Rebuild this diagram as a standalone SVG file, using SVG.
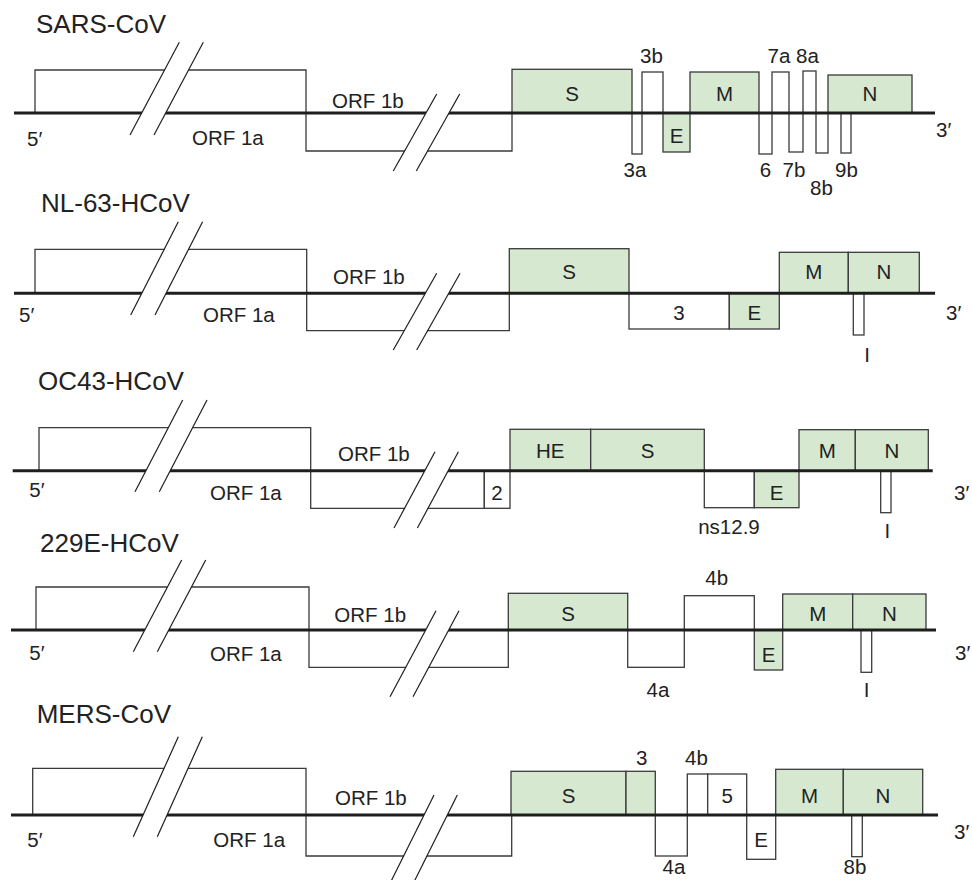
<svg xmlns="http://www.w3.org/2000/svg" width="972" height="880" viewBox="0 0 972 880">
<style>
  .bg{fill:#ffffff}
  .orf{fill:none;stroke:#3a3a3a;stroke-width:1.3}
  .w{fill:#ffffff;stroke:#3a3a3a;stroke-width:1.3}
  .g{fill:#d6e9d0;stroke:#3a3a3a;stroke-width:1.3}
  .bb{stroke:#1e1e1e;stroke-width:3;fill:none}
  .mask{fill:#ffffff;stroke:none}
  .sl{stroke:#1e1e1e;stroke-width:1.2;fill:none}
  text{font-family:"Liberation Sans",Arial,"DejaVu Sans",sans-serif;fill:#222222}
  .t{font-size:20.5px}
  .c{font-size:20.5px;text-anchor:middle}
  .title{font-size:26px}
</style>
<rect class="bg" x="0" y="0" width="972" height="880"/>

<!-- SARS-CoV -->
<g id="sars-cov">
  <text class="title" x="36" y="33">SARS-CoV</text>
  <g id="sars-orf1"><path class="orf" d="M35,113 V70 H306 V151 H512 V113"/>
    <text class="t" x="192" y="145">ORF 1a</text><text class="t" x="332" y="108">ORF 1b</text></g>
  <g id="sars-S"><rect class="g" x="512" y="69.3" width="120" height="43.7"/><text class="c" x="572" y="101">S</text></g>
  <g id="sars-3a"><rect class="w" x="632" y="113" width="10" height="41"/><text class="c" x="635" y="177">3a</text></g>
  <g id="sars-3b"><rect class="w" x="642" y="72" width="21" height="41"/><text class="c" x="651.5" y="63">3b</text></g>
  <g id="sars-E"><rect class="g" x="663" y="113" width="27" height="39"/><text class="c" x="676.5" y="143">E</text></g>
  <g id="sars-M"><rect class="g" x="690" y="72" width="69" height="41"/><text class="c" x="724.5" y="101">M</text></g>
  <g id="sars-6"><rect class="w" x="759" y="113" width="13" height="41"/><text class="c" x="765.5" y="177">6</text></g>
  <g id="sars-7a"><rect class="w" x="772" y="72" width="17" height="41"/><text class="c" x="779" y="63">7a</text></g>
  <g id="sars-7b"><rect class="w" x="789" y="113" width="14" height="39"/><text class="c" x="794" y="177">7b</text></g>
  <g id="sars-8a"><rect class="w" x="803" y="71" width="13" height="42"/><text class="c" x="807.5" y="63">8a</text></g>
  <g id="sars-8b"><rect class="w" x="816" y="113" width="12" height="40"/><text class="c" x="821.5" y="195">8b</text></g>
  <g id="sars-N"><rect class="g" x="828" y="75" width="84" height="38"/><text class="c" x="870" y="101">N</text></g>
  <g id="sars-9b"><rect class="w" x="841" y="113" width="10" height="40"/><text class="c" x="846.5" y="177">9b</text></g>
  <text class="t" x="27" y="146">5′</text>
  <text class="t" x="936" y="137">3′</text>
</g>

<!-- NL-63-HCoV -->
<g id="nl63-hcov">
  <text class="title" x="41" y="212">NL-63-HCoV</text>
  <g id="nl63-orf1"><path class="orf" d="M35,293.3 V249.3 H306.7 V330.7 H509.3 V293.3"/>
    <text class="t" x="203" y="322">ORF 1a</text><text class="t" x="333" y="284">ORF 1b</text></g>
  <g id="nl63-S"><rect class="g" x="509.3" y="248.7" width="119.7" height="44.6"/><text class="c" x="569" y="279">S</text></g>
  <g id="nl63-3"><rect class="w" x="629" y="293.3" width="100.3" height="35.7"/><text class="c" x="679" y="320">3</text></g>
  <g id="nl63-E"><rect class="g" x="729.3" y="293.3" width="50" height="35.7"/><text class="c" x="754.3" y="320">E</text></g>
  <g id="nl63-M"><rect class="g" x="779.3" y="252.3" width="69" height="41"/><text class="c" x="813.8" y="279">M</text></g>
  <g id="nl63-N"><rect class="g" x="848.3" y="252.3" width="71" height="41"/><text class="c" x="883.8" y="279">N</text></g>
  <g id="nl63-I"><rect class="w" x="853.3" y="293.3" width="10.7" height="41.7"/><text class="c" x="867" y="362">I</text></g>
  <text class="t" x="19" y="322">5′</text>
  <text class="t" x="946" y="320">3′</text>
</g>

<!-- OC43-HCoV -->
<g id="oc43-hcov">
  <text class="title" x="38" y="390">OC43-HCoV</text>
  <g id="oc43-orf1"><path class="orf" d="M39,470.7 V427.7 H310.7 V508.3 H484.3 V470.7"/>
    <text class="t" x="210" y="500">ORF 1a</text><text class="t" x="338" y="461">ORF 1b</text></g>
  <g id="oc43-2"><rect class="w" x="484.3" y="470.7" width="25.7" height="37.6"/><text class="c" x="497" y="500">2</text></g>
  <g id="oc43-HE"><rect class="g" x="510" y="429.3" width="80.7" height="41.4"/><text class="c" x="550.3" y="458">HE</text></g>
  <g id="oc43-S"><rect class="g" x="590.7" y="429.3" width="113.6" height="41.4"/><text class="c" x="647.5" y="458">S</text></g>
  <g id="oc43-ns12.9"><rect class="w" x="704.3" y="470.7" width="50" height="37"/><text class="c" x="729" y="534">ns12.9</text></g>
  <g id="oc43-E"><rect class="g" x="754.3" y="470.7" width="44.7" height="37"/><text class="c" x="776.7" y="500">E</text></g>
  <g id="oc43-M"><rect class="g" x="799" y="429.7" width="56.3" height="41"/><text class="c" x="827.2" y="458">M</text></g>
  <g id="oc43-N"><rect class="g" x="855.3" y="429.7" width="73" height="41"/><text class="c" x="891.8" y="458">N</text></g>
  <g id="oc43-I"><rect class="w" x="880.7" y="470.7" width="10.3" height="42"/><text class="c" x="887.3" y="538">I</text></g>
  <text class="t" x="29.3" y="497">5′</text>
  <text class="t" x="954" y="500">3′</text>
</g>

<!-- 229E-HCoV -->
<g id="229e-hcov">
  <text class="title" x="40" y="552">229E-HCoV</text>
  <g id="229e-orf1"><path class="orf" d="M36,630 V587 H309 V667.3 H508.3 V630"/>
    <text class="t" x="210" y="661">ORF 1a</text><text class="t" x="334.3" y="622">ORF 1b</text></g>
  <g id="229e-S"><rect class="g" x="508.3" y="593.3" width="119.4" height="36.7"/><text class="c" x="568" y="620.7">S</text></g>
  <g id="229e-4a"><rect class="w" x="627.7" y="630" width="56.6" height="37.3"/><text class="c" x="658" y="697">4a</text></g>
  <g id="229e-4b"><rect class="w" x="684.3" y="595.7" width="70" height="34.3"/><text class="c" x="716.7" y="585">4b</text></g>
  <g id="229e-E"><rect class="g" x="754.3" y="630" width="28.4" height="40"/><text class="c" x="768.5" y="661.7">E</text></g>
  <g id="229e-M"><rect class="g" x="782.7" y="594" width="70" height="36"/><text class="c" x="817.7" y="620.7">M</text></g>
  <g id="229e-N"><rect class="g" x="852.7" y="594" width="73.3" height="36"/><text class="c" x="889.3" y="620.7">N</text></g>
  <g id="229e-I"><rect class="w" x="861" y="630" width="10.7" height="42.3"/><text class="c" x="866.5" y="697">I</text></g>
  <text class="t" x="29.3" y="660">5′</text>
  <text class="t" x="955" y="660">3′</text>
</g>

<!-- MERS-CoV -->
<g id="mers-cov">
  <text class="title" x="36.7" y="723">MERS-CoV</text>
  <g id="mers-orf1"><path class="orf" d="M32.7,815 V768.3 H306 V856 H511.7 V815"/>
    <text class="t" x="213.3" y="847">ORF 1a</text><text class="t" x="335" y="805">ORF 1b</text></g>
  <g id="mers-S"><rect class="g" x="511" y="771.3" width="115" height="43.7"/><text class="c" x="568.5" y="802.7">S</text></g>
  <g id="mers-3"><rect class="g" x="626" y="771.3" width="29.3" height="43.7"/><text class="c" x="641.7" y="765">3</text></g>
  <g id="mers-4a"><rect class="w" x="655.3" y="815" width="32" height="41"/><text class="c" x="674" y="874">4a</text></g>
  <g id="mers-4b"><rect class="w" x="687.3" y="774" width="20.4" height="41"/><text class="c" x="696.5" y="765">4b</text></g>
  <g id="mers-5"><rect class="w" x="707.7" y="774" width="39" height="41"/><text class="c" x="727.2" y="803">5</text></g>
  <g id="mers-E"><rect class="w" x="746.7" y="815" width="29" height="44.3"/><text class="c" x="761.2" y="846.7">E</text></g>
  <g id="mers-M"><rect class="g" x="775.7" y="769.3" width="67.6" height="45.7"/><text class="c" x="809.5" y="803">M</text></g>
  <g id="mers-N"><rect class="g" x="843.3" y="769.3" width="79.4" height="45.7"/><text class="c" x="883" y="803">N</text></g>
  <g id="mers-8b"><rect class="w" x="851.7" y="815" width="10.6" height="41.7"/><text class="c" x="855" y="874">8b</text></g>
  <text class="t" x="27.3" y="847">5′</text>
  <text class="t" x="954" y="839">3′</text>
</g>

<!-- genome backbones -->
<g id="connectors">
  <line class="bb" x1="14" y1="113" x2="935" y2="113"/>
  <line class="bb" x1="14" y1="293.3" x2="935" y2="293.3"/>
  <line class="bb" x1="12.7" y1="470.7" x2="932.7" y2="470.7"/>
  <line class="bb" x1="11" y1="630" x2="936" y2="630"/>
  <line class="bb" x1="11" y1="815" x2="938" y2="815"/>
</g>

<!-- break marks -->
<g id="breaks">
  <polygon class="mask" points="130,135 179.3,42.3 203.3,42.3 154,135"/>
  <polygon class="mask" points="393.3,171 436.7,94 459.7,94 416.3,171"/>
  <polygon class="mask" points="130.7,315 178.3,221.7 202.6,221.7 155,315"/>
  <polygon class="mask" points="393.3,350 436.7,273.3 460.1,273.3 416.7,350"/>
  <polygon class="mask" points="135,491.7 182.7,400 207,400 159.3,491.7"/>
  <polygon class="mask" points="394,528 435,451.7 458.4,451.7 417.4,528"/>
  <polygon class="mask" points="133.3,651.7 181.7,560 205.7,560 157.3,651.7"/>
  <polygon class="mask" points="390,696.7 436,610.7 459,610.7 413,696.7"/>
  <polygon class="mask" points="133.3,836.7 178.3,736.7 202.3,736.7 157.3,836.7"/>
  <polygon class="mask" points="389.7,884 434,795 457.3,795 413,884"/>

  <line class="sl" x1="130" y1="135" x2="179.3" y2="42.3"/><line class="sl" x1="154" y1="135" x2="203.3" y2="42.3"/>
  <line class="sl" x1="393.3" y1="171" x2="436.7" y2="94"/><line class="sl" x1="416.3" y1="171" x2="459.7" y2="94"/>
  <line class="sl" x1="130.7" y1="315" x2="178.3" y2="221.7"/><line class="sl" x1="155" y1="315" x2="202.6" y2="221.7"/>
  <line class="sl" x1="393.3" y1="350" x2="436.7" y2="273.3"/><line class="sl" x1="416.7" y1="350" x2="460.1" y2="273.3"/>
  <line class="sl" x1="135" y1="491.7" x2="182.7" y2="400"/><line class="sl" x1="159.3" y1="491.7" x2="207" y2="400"/>
  <line class="sl" x1="394" y1="528" x2="435" y2="451.7"/><line class="sl" x1="417.4" y1="528" x2="458.4" y2="451.7"/>
  <line class="sl" x1="133.3" y1="651.7" x2="181.7" y2="560"/><line class="sl" x1="157.3" y1="651.7" x2="205.7" y2="560"/>
  <line class="sl" x1="390" y1="696.7" x2="436" y2="610.7"/><line class="sl" x1="413" y1="696.7" x2="459" y2="610.7"/>
  <line class="sl" x1="133.3" y1="836.7" x2="178.3" y2="736.7"/><line class="sl" x1="157.3" y1="836.7" x2="202.3" y2="736.7"/>
  <line class="sl" x1="389.7" y1="884" x2="434" y2="795"/><line class="sl" x1="413" y1="884" x2="457.3" y2="795"/>
</g>
</svg>
